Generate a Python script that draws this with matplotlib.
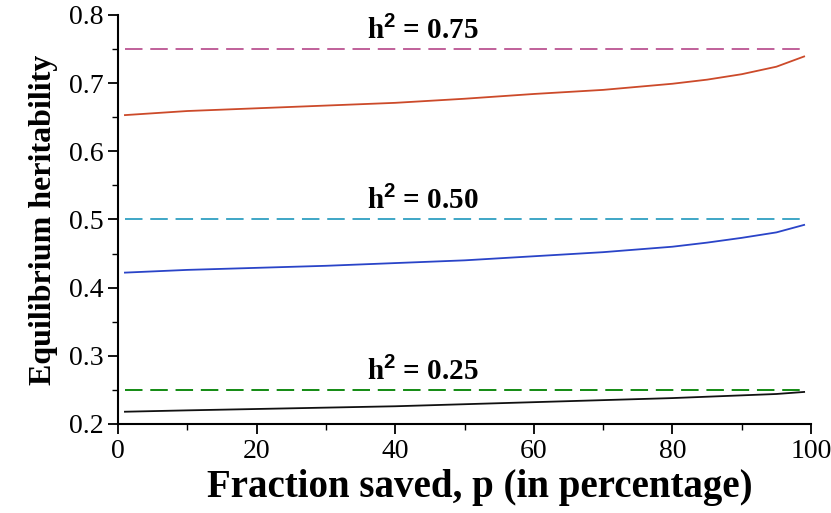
import numpy as np
import matplotlib
matplotlib.use("Agg")
import matplotlib.pyplot as plt
from matplotlib.ticker import MultipleLocator

plt.rcParams['font.family'] = 'Liberation Serif'
plt.rcParams['mathtext.fontset'] = 'custom'
plt.rcParams['mathtext.rm'] = 'Liberation Serif:bold'
plt.rcParams['mathtext.bf'] = 'Liberation Sans:bold'

# fraction saved (percent) and equilibrium heritability
p = [1, 10, 20, 30, 40, 50, 60, 70, 80, 85, 90, 95, 99]
h75 = [0.653, 0.659, 0.663, 0.667, 0.671, 0.677, 0.684, 0.690, 0.699, 0.705, 0.713, 0.724, 0.739]
h50 = [0.422, 0.426, 0.429, 0.432, 0.436, 0.440, 0.446, 0.452, 0.460, 0.466, 0.473, 0.481, 0.492]
h25 = [0.218, 0.220, 0.222, 0.224, 0.226, 0.229, 0.232, 0.235, 0.238, 0.240, 0.242, 0.244, 0.247]

h2_levels = [0.75, 0.50, 0.25]
level_labels = ["0.75", "0.50", "0.25"]
level_colors = ["#c0609a", "#3ea6c6", "#128a12"]
curves = [h75, h50, h25]
curve_colors = ["#cc4a2a", "#2a44c8", "#111111"]

fig = plt.figure(figsize=(8.31, 5.13), dpi=100)
ax = fig.add_axes([0.142, 0.1735, 0.834, 0.7975])

for lev, lab, lc, cur, cc in zip(h2_levels, level_labels, level_colors, curves, curve_colors):
    ax.plot([p[0], p[-1]], [lev, lev], color=lc, lw=1.4, dashes=(9, 4))
    ax.plot(p, cur, color=cc, lw=1.3)
    ax.text(44, lev + 0.006, r"h$^{\mathbf{2}}$ = " + lab, ha='center', va='bottom',
            fontsize=21, fontweight='bold')

ax.set_xlim(0, 100)
ax.set_ylim(0.2, 0.8)
ax.xaxis.set_major_locator(MultipleLocator(20))
ax.xaxis.set_minor_locator(MultipleLocator(10))
ax.yaxis.set_major_locator(MultipleLocator(0.1))
ax.yaxis.set_minor_locator(MultipleLocator(0.05))
ax.set_yticklabels(["%.1f" % v for v in ax.get_yticks()])
ax.tick_params(which='major', length=7, width=1.3, labelsize=20)
ax.tick_params(which='minor', length=4, width=1.0)
for s in ['top', 'right']:
    ax.spines[s].set_visible(False)
for s in ['left', 'bottom']:
    ax.spines[s].set_linewidth(1.5)

ax.set_xlabel("Fraction saved, p (in percentage)", fontsize=28, fontweight='bold',
              labelpad=4, x=0.522)
ax.set_ylabel("Equilibrium heritability", fontsize=23, fontweight='bold', labelpad=8)

fig.savefig("out.png", dpi=100)
